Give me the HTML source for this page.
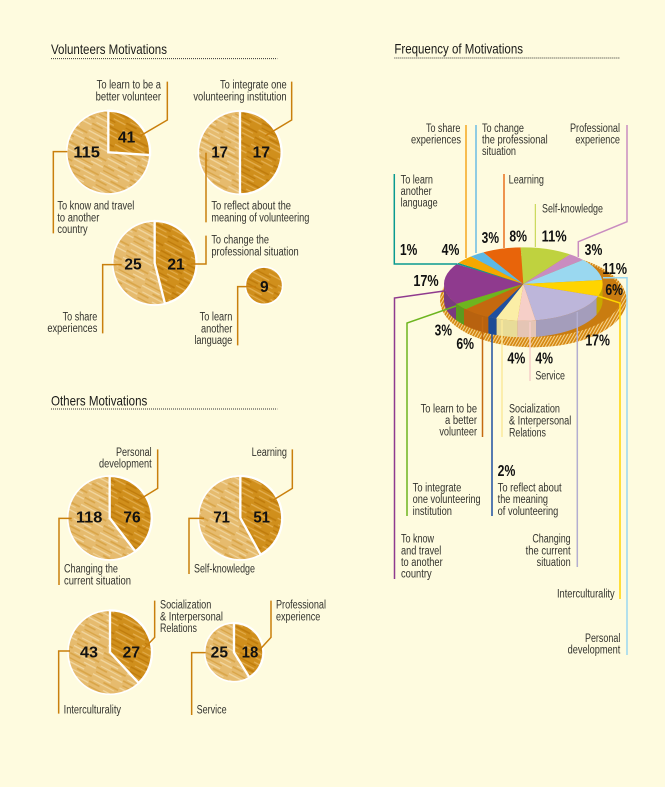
<!DOCTYPE html>
<html>
<head>
<meta charset="utf-8">
<style>
html,body{margin:0;padding:0;background:#fefbdf;}
svg{display:block;}
text{font-family:"Liberation Sans Narrow","Liberation Sans",sans-serif;font-size:36px;fill:#33332e;}
text.t{font-size:42px;fill:#1a1a18;}
text.b{font-family:"Liberation Sans",sans-serif;font-weight:bold;font-size:47px;fill:#111;}
.l{fill:none;stroke:#c97f0c;stroke-width:4.5;}
.d{fill:none;stroke:#333;stroke-width:3;stroke-dasharray:3 3;}
.c{fill:none;stroke-width:1.5;}
</style>
</head>
<body>
<svg width="665" height="787" viewBox="0 0 665 787" xmlns="http://www.w3.org/2000/svg">
<defs>
<pattern id="lt" width="90" height="48" patternUnits="userSpaceOnUse" patternTransform="rotate(28)">
<rect width="90" height="48" fill="#e6bb6e"/>
<rect x="0" y="3" width="60" height="4" fill="#f1d69f"/>
<rect x="40" y="11" width="50" height="5" fill="#d9a548"/>
<rect x="10" y="20" width="70" height="3" fill="#f1d69f"/>
<rect x="0" y="27" width="35" height="5" fill="#d9a548"/>
<rect x="50" y="33" width="40" height="4" fill="#f1d69f"/>
<rect x="5" y="41" width="55" height="4" fill="#d9a548"/>
</pattern>
<pattern id="dk" width="90" height="48" patternUnits="userSpaceOnUse" patternTransform="rotate(28)">
<rect width="90" height="48" fill="#d08f1c"/>
<rect x="0" y="3" width="60" height="4" fill="#e3ad4e"/>
<rect x="40" y="11" width="50" height="5" fill="#c07c0c"/>
<rect x="10" y="20" width="70" height="3" fill="#e3ad4e"/>
<rect x="0" y="27" width="35" height="5" fill="#c07c0c"/>
<rect x="50" y="33" width="40" height="4" fill="#e3ad4e"/>
<rect x="5" y="41" width="55" height="4" fill="#c07c0c"/>
</pattern>
<pattern id="sh" width="8" height="8" patternUnits="userSpaceOnUse" patternTransform="rotate(30)">
<rect width="8" height="8" fill="#d4860f"/><rect width="3" height="8" fill="#f6d592"/>
</pattern>
<clipPath id="top"><ellipse cx="430" cy="252" rx="238" ry="110"/></clipPath>
<clipPath id="body"><path d="M192,252 A238,110 0 0 0 668,252 V302 A238,110 0 0 1 192,302 Z"/></clipPath>
</defs>
<rect width="665" height="787" fill="#fefbdf"/>

<!-- Volunteers -->
<g transform="translate(40,30) scale(.33333)">
<text class="t" x="33" y="72" textLength="348" lengthAdjust="spacingAndGlyphs">Volunteers Motivations</text>
<line class="d" x1="33" y1="86" x2="712" y2="86"/>

<circle cx="205" cy="367" r="125" fill="url(#lt)" stroke="#fff" stroke-width="5"/>
<path d="M205,367 V242 A125,125 0 0 1 330,375 Z" fill="url(#dk)" stroke="#fff" stroke-width="7"/>
<circle cx="600" cy="368" r="125" fill="url(#lt)" stroke="#fff" stroke-width="5"/>
<path d="M600,243 A125,125 0 0 1 600,493 Z" fill="url(#dk)" stroke="#fff" stroke-width="7"/>
<circle cx="344" cy="699" r="126" fill="url(#lt)" stroke="#fff" stroke-width="5"/>
<path d="M344,699 V573 A126,126 0 0 1 375,821 Z" fill="url(#dk)" stroke="#fff" stroke-width="7"/>
<circle cx="672" cy="767" r="56" fill="url(#dk)" stroke="#fff" stroke-width="5"/>

<path class="l" d="M382,155 V270 L300,318"/>
<path class="l" d="M755,155 V270 L675,318"/>
<path class="l" d="M82,365 H40 V610"/>
<path class="l" d="M498,368 V577"/>
<path class="l" d="M498,617 V702 H452"/>
<path class="l" d="M245,704 H188 V910"/>
<path class="l" d="M648,770 H593 V946"/>

<text class="b" x="234" y="337" textLength="52" lengthAdjust="spacingAndGlyphs">41</text>
<text class="b" x="100" y="383" textLength="80" lengthAdjust="spacingAndGlyphs">115</text>
<text class="b" x="514" y="383" textLength="50" lengthAdjust="spacingAndGlyphs">17</text>
<text class="b" x="638" y="383" textLength="52" lengthAdjust="spacingAndGlyphs">17</text>
<text class="b" x="253" y="718" textLength="52" lengthAdjust="spacingAndGlyphs">25</text>
<text class="b" x="382" y="718" textLength="52" lengthAdjust="spacingAndGlyphs">21</text>
<text class="b" x="660" y="786" textLength="26" lengthAdjust="spacingAndGlyphs">9</text>

<text x="170" y="175" textLength="193" lengthAdjust="spacingAndGlyphs">To learn to be a</text>
<text x="167" y="211" textLength="196" lengthAdjust="spacingAndGlyphs">better volunteer</text>
<text x="540" y="175" textLength="200" lengthAdjust="spacingAndGlyphs">To integrate one</text>
<text x="460" y="211" textLength="280" lengthAdjust="spacingAndGlyphs">volunteering institution</text>
<text x="52" y="538" textLength="231" lengthAdjust="spacingAndGlyphs">To know and travel</text>
<text x="52" y="574" textLength="126" lengthAdjust="spacingAndGlyphs">to another</text>
<text x="52" y="609" textLength="91" lengthAdjust="spacingAndGlyphs">country</text>
<text x="514" y="538" textLength="239" lengthAdjust="spacingAndGlyphs">To reflect about the</text>
<text x="514" y="574" textLength="294" lengthAdjust="spacingAndGlyphs">meaning of volunteering</text>
<text x="514" y="640" textLength="173" lengthAdjust="spacingAndGlyphs">To change the</text>
<text x="514" y="676" textLength="262" lengthAdjust="spacingAndGlyphs">professional situation</text>
<text x="68" y="872" textLength="104" lengthAdjust="spacingAndGlyphs">To share</text>
<text x="22" y="906" textLength="150" lengthAdjust="spacingAndGlyphs">experiences</text>
<text x="479" y="872" textLength="98" lengthAdjust="spacingAndGlyphs">To learn</text>
<text x="483" y="907" textLength="94" lengthAdjust="spacingAndGlyphs">another</text>
<text x="463" y="942" textLength="114" lengthAdjust="spacingAndGlyphs">language</text>
</g>

<!-- Others -->
<g transform="translate(40,390) scale(.33333)">
<text class="t" x="33" y="46" textLength="289" lengthAdjust="spacingAndGlyphs">Others Motivations</text>
<line class="d" x1="33" y1="57" x2="712" y2="57"/>

<circle cx="209" cy="384" r="126" fill="url(#lt)" stroke="#fff" stroke-width="5"/>
<path d="M209,384 V258 A126,126 0 0 1 286,484 Z" fill="url(#dk)" stroke="#fff" stroke-width="7"/>
<circle cx="601" cy="384" r="126" fill="url(#lt)" stroke="#fff" stroke-width="5"/>
<path d="M601,384 V258 A126,126 0 0 1 662,494 Z" fill="url(#dk)" stroke="#fff" stroke-width="7"/>
<circle cx="210" cy="787" r="126" fill="url(#lt)" stroke="#fff" stroke-width="5"/>
<path d="M210,787 V661 A126,126 0 0 1 296,879 Z" fill="url(#dk)" stroke="#fff" stroke-width="7"/>
<circle cx="582" cy="787" r="88" fill="url(#lt)" stroke="#fff" stroke-width="5"/>
<path d="M582,787 V699 A88,88 0 0 1 628,862 Z" fill="url(#dk)" stroke="#fff" stroke-width="7"/>

<path class="l" d="M353,178 V295 L288,335"/>
<path class="l" d="M757,178 V295 L692,335"/>
<path class="l" d="M95,385 H57 V585"/>
<path class="l" d="M492,385 H447 V552"/>
<path class="l" d="M344,632 V742 L310,778"/>
<path class="l" d="M90,783 H56 V971"/>
<path class="l" d="M693,632 V742 L660,778"/>
<path class="l" d="M497,788 H455 V975"/>

<text class="b" x="108" y="398" textLength="79" lengthAdjust="spacingAndGlyphs">118</text>
<text class="b" x="250" y="398" textLength="52" lengthAdjust="spacingAndGlyphs">76</text>
<text class="b" x="520" y="398" textLength="50" lengthAdjust="spacingAndGlyphs">71</text>
<text class="b" x="640" y="398" textLength="50" lengthAdjust="spacingAndGlyphs">51</text>
<text class="b" x="120" y="802" textLength="54" lengthAdjust="spacingAndGlyphs">43</text>
<text class="b" x="248" y="802" textLength="52" lengthAdjust="spacingAndGlyphs">27</text>
<text class="b" x="512" y="802" textLength="52" lengthAdjust="spacingAndGlyphs">25</text>
<text class="b" x="605" y="802" textLength="50" lengthAdjust="spacingAndGlyphs">18</text>

<text x="228" y="198" textLength="107" lengthAdjust="spacingAndGlyphs">Personal</text>
<text x="177" y="233" textLength="158" lengthAdjust="spacingAndGlyphs">development</text>
<text x="635" y="198" textLength="106" lengthAdjust="spacingAndGlyphs">Learning</text>
<text x="72" y="548" textLength="162" lengthAdjust="spacingAndGlyphs">Changing the</text>
<text x="72" y="583" textLength="201" lengthAdjust="spacingAndGlyphs">current situation</text>
<text x="462" y="548" textLength="183" lengthAdjust="spacingAndGlyphs">Self-knowledge</text>
<text x="360" y="656" textLength="154" lengthAdjust="spacingAndGlyphs">Socialization</text>
<text x="360" y="691" textLength="189" lengthAdjust="spacingAndGlyphs">&amp; Interpersonal</text>
<text x="360" y="726" textLength="111" lengthAdjust="spacingAndGlyphs">Relations</text>
<text x="708" y="656" textLength="150" lengthAdjust="spacingAndGlyphs">Professional</text>
<text x="708" y="691" textLength="133" lengthAdjust="spacingAndGlyphs">experience</text>
<text x="71" y="971" textLength="172" lengthAdjust="spacingAndGlyphs">Interculturality</text>
<text x="470" y="971" textLength="90" lengthAdjust="spacingAndGlyphs">Service</text>
</g>

<!-- 3D pie -->
<g transform="translate(380,200) scale(.33333)">
<ellipse cx="460" cy="300" rx="280" ry="142" fill="url(#sh)"/>
<ellipse cx="470" cy="288" rx="255" ry="122" fill="#c97c10"/>
<g clip-path="url(#body)">
<rect x="190" y="240" width="38" height="190" fill="#7a3a80"/>
<rect x="228" y="240" width="24" height="190" fill="#5d9a1e"/>
<rect x="252" y="240" width="73" height="190" fill="#b8620f"/>
<rect x="325" y="240" width="25" height="190" fill="#1d4c96"/>
<rect x="350" y="240" width="62" height="190" fill="#e8dc98"/>
<rect x="412" y="240" width="56" height="190" fill="#e5c5b5"/>
<rect x="468" y="240" width="182" height="190" fill="#a49dbb"/>
<rect x="650" y="240" width="20" height="190" fill="#c8a800"/>
</g>
<g clip-path="url(#top)">
<polygon points="430,252 26,372 -100,252 34,134" fill="#8f3a8e"/>
<polygon points="430,252 34,134 50,128" fill="#0a9a90"/>
<polygon points="430,252 50,128 126,92" fill="#f5a800"/>
<polygon points="430,252 126,92 190,62" fill="#5cb8e4"/>
<polygon points="430,252 190,62 414,28" fill="#e8640a"/>
<polygon points="430,252 414,28 704,78" fill="#bfd23f"/>
<polygon points="430,252 704,78 786,108" fill="#c98cc0"/>
<polygon points="430,252 786,108 906,228" fill="#9ad8f0"/>
<polygon points="430,252 906,228 870,324" fill="#ffd400"/>
<polygon points="430,252 870,324 506,478" fill="#bdb6da"/>
<polygon points="430,252 506,478 394,478" fill="#f6cfc8"/>
<polygon points="430,252 394,478 270,454" fill="#fbeea6"/>
<polygon points="430,252 270,454 220,448" fill="#1f4fa0"/>
<polygon points="430,252 220,448 74,408" fill="#c4690f"/>
<polygon points="430,252 74,408 26,372" fill="#6db51f"/>
</g>
</g>

<!-- connectors -->
<path class="c" stroke="#0a9a90" d="M394.3,174 V264 H457"/>
<path class="c" stroke="#f5a81e" d="M466,125 V258"/>
<path class="c" stroke="#6cbde4" d="M476,125 V253"/>
<path class="c" stroke="#e8701e" d="M504,174 V248"/>
<path stroke="#bfd23f" fill="none" stroke-width="1" d="M535.3,204 V247"/>
<path class="c" stroke="#c98cc0" d="M627,125 V221.7 L578.3,241.7 V257"/>
<path class="c" stroke="#9ad8f0" d="M603,277.7 H627 V655"/>
<path class="c" stroke="#ffd400" d="M598,296 L620,303 V599"/>
<path class="c" stroke="#b3aed0" d="M577.3,312 V567"/>
<path class="c" stroke="#8f3a8e" d="M444,291 L394.5,298 V579"/>
<path class="c" stroke="#6db51f" d="M456,306 L407,323 V516"/>
<path class="c" stroke="#c4690f" d="M482.5,317 V437"/>
<path class="c" stroke="#1f4fa0" d="M492,333 V516"/>
<path class="c" stroke="#fbe99a" d="M502,320 V437"/>
<path class="c" stroke="#f6cfc8" d="M530,322 V381"/>

<g transform="translate(380,30) scale(.33333)">
<text class="t" x="43" y="70" textLength="386" lengthAdjust="spacingAndGlyphs">Frequency of Motivations</text>
<line class="d" x1="43" y1="84" x2="720" y2="84"/>
<text x="138" y="306" textLength="103" lengthAdjust="spacingAndGlyphs">To share</text>
<text x="93" y="341" textLength="150" lengthAdjust="spacingAndGlyphs">experiences</text>
<text x="306" y="306" textLength="126" lengthAdjust="spacingAndGlyphs">To change</text>
<text x="306" y="340" textLength="197" lengthAdjust="spacingAndGlyphs">the professional</text>
<text x="306" y="375" textLength="102" lengthAdjust="spacingAndGlyphs">situation</text>
<text x="570" y="306" textLength="150" lengthAdjust="spacingAndGlyphs">Professional</text>
<text x="586" y="341" textLength="134" lengthAdjust="spacingAndGlyphs">experience</text>
<text x="62" y="460" textLength="97" lengthAdjust="spacingAndGlyphs">To learn</text>
<text x="62" y="495" textLength="93" lengthAdjust="spacingAndGlyphs">another</text>
<text x="62" y="530" textLength="111" lengthAdjust="spacingAndGlyphs">language</text>
<text x="386" y="460" textLength="106" lengthAdjust="spacingAndGlyphs">Learning</text>
<text x="486" y="548" textLength="183" lengthAdjust="spacingAndGlyphs">Self-knowledge</text>
</g>

<g transform="translate(380,200) scale(.33333)">
<text class="b" x="60" y="165" textLength="52" lengthAdjust="spacingAndGlyphs">1%</text>
<text class="b" x="185" y="165" textLength="53" lengthAdjust="spacingAndGlyphs">4%</text>
<text class="b" x="305" y="129" textLength="52" lengthAdjust="spacingAndGlyphs">3%</text>
<text class="b" x="388" y="125" textLength="53" lengthAdjust="spacingAndGlyphs">8%</text>
<text class="b" x="485" y="125" textLength="75" lengthAdjust="spacingAndGlyphs">11%</text>
<text class="b" x="614" y="165" textLength="53" lengthAdjust="spacingAndGlyphs">3%</text>
<text class="b" x="667" y="222" textLength="74" lengthAdjust="spacingAndGlyphs">11%</text>
<text class="b" x="676" y="285" textLength="53" lengthAdjust="spacingAndGlyphs">6%</text>
<text class="b" x="100" y="258" textLength="76" lengthAdjust="spacingAndGlyphs">17%</text>
<text class="b" x="616" y="437" textLength="74" lengthAdjust="spacingAndGlyphs">17%</text>
<text class="b" x="164" y="406" textLength="52" lengthAdjust="spacingAndGlyphs">3%</text>
<text class="b" x="229" y="447" textLength="53" lengthAdjust="spacingAndGlyphs">6%</text>
<text class="b" x="382" y="491" textLength="54" lengthAdjust="spacingAndGlyphs">4%</text>
<text class="b" x="466" y="491" textLength="53" lengthAdjust="spacingAndGlyphs">4%</text>
<text x="466" y="539" textLength="89" lengthAdjust="spacingAndGlyphs">Service</text>
</g>

<g transform="translate(390,380) scale(.33333)">
<text class="b" x="323" y="288" textLength="53" lengthAdjust="spacingAndGlyphs">2%</text>
<text x="92" y="97" textLength="169" lengthAdjust="spacingAndGlyphs">To learn to be</text>
<text x="165" y="132" textLength="96" lengthAdjust="spacingAndGlyphs">a better</text>
<text x="148" y="167" textLength="113" lengthAdjust="spacingAndGlyphs">volunteer</text>
<text x="357" y="98" textLength="153" lengthAdjust="spacingAndGlyphs">Socialization</text>
<text x="357" y="134" textLength="187" lengthAdjust="spacingAndGlyphs">&amp; Interpersonal</text>
<text x="357" y="169" textLength="111" lengthAdjust="spacingAndGlyphs">Relations</text>
<text x="68" y="335" textLength="146" lengthAdjust="spacingAndGlyphs">To integrate</text>
<text x="68" y="369" textLength="204" lengthAdjust="spacingAndGlyphs">one volunteering</text>
<text x="68" y="405" textLength="118" lengthAdjust="spacingAndGlyphs">institution</text>
<text x="323" y="335" textLength="192" lengthAdjust="spacingAndGlyphs">To reflect about</text>
<text x="323" y="369" textLength="151" lengthAdjust="spacingAndGlyphs">the meaning</text>
<text x="323" y="405" textLength="182" lengthAdjust="spacingAndGlyphs">of volunteering</text>
<text x="33" y="488" textLength="99" lengthAdjust="spacingAndGlyphs">To know</text>
<text x="33" y="523" textLength="121" lengthAdjust="spacingAndGlyphs">and travel</text>
<text x="33" y="558" textLength="125" lengthAdjust="spacingAndGlyphs">to another</text>
<text x="33" y="593" textLength="92" lengthAdjust="spacingAndGlyphs">country</text>
<text x="427" y="488" textLength="115" lengthAdjust="spacingAndGlyphs">Changing</text>
<text x="407" y="523" textLength="135" lengthAdjust="spacingAndGlyphs">the current</text>
<text x="440" y="558" textLength="102" lengthAdjust="spacingAndGlyphs">situation</text>
<text x="501" y="653" textLength="173" lengthAdjust="spacingAndGlyphs">Interculturality</text>
<text x="585" y="786" textLength="106" lengthAdjust="spacingAndGlyphs">Personal</text>
<text x="533" y="820" textLength="158" lengthAdjust="spacingAndGlyphs">development</text>
</g>
</svg>
</body>
</html>
